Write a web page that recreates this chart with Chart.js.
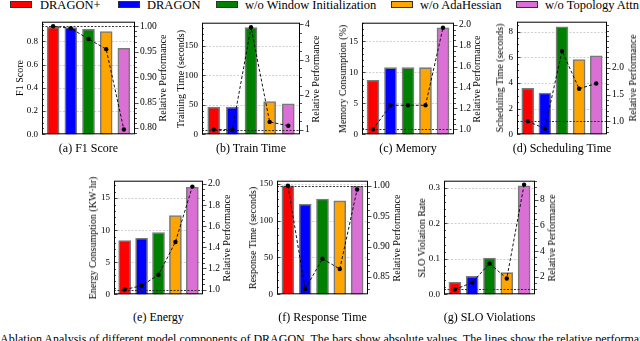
<!DOCTYPE html>
<html><head><meta charset="utf-8">
<script src="https://cdn.jsdelivr.net/npm/chart.js@4/dist/chart.umd.min.js"></script>
<style>
html,body{margin:0;padding:0;background:#fff;width:640px;height:341px;overflow:hidden;position:relative;font-family:"Liberation Serif",serif;color:#000}
canvas{position:absolute}
.t{position:absolute;white-space:nowrap;font-size:10px;line-height:10px}
.rot{transform:translate(-50%,-50%) rotate(-90deg)}
.cap{position:absolute;white-space:nowrap;font-size:12px;line-height:12px;transform:translate(-50%,-50%)}
.lg{position:absolute;top:1px;width:22px;height:7px;border:1px solid #333;box-sizing:border-box}
</style></head><body>
<script>
// ---------- data ----------
const categories = ['DRAGON+', 'DRAGON', 'w/o Window Initialization', 'w/o AdaHessian', 'w/o Topology Attn'];
const f1Score   = [0.921, 0.918, 0.903, 0.884, 0.739];
const f1Rel     = [1.000, 0.996, 0.975, 0.955, 0.797];
const trainTime = [46.0, 46.0, 180.8, 55.5, 51.7];
const trainRel  = [1.00, 1.00, 3.92, 1.22, 1.11];
const memory    = [8.73, 10.76, 10.76, 10.76, 17.2];
const memoryRel = [1.00, 1.23, 1.23, 1.23, 1.97];
const schedTime = [3.58, 3.22, 8.38, 5.82, 6.11];
const schedRel  = [1.00, 0.86, 2.32, 1.61, 1.71];
const energy    = [8.39, 8.73, 9.62, 12.28, 16.7];
const energyRel = [1.000, 1.036, 1.140, 1.450, 1.975];
const respTime  = [147.4, 122.3, 129.5, 126.9, 146.7];
const respRel   = [1.000, 0.830, 0.880, 0.863, 0.994];
const sloRate   = [0.0337, 0.0504, 0.102, 0.061, 0.305];
const sloRel    = [1.00, 1.53, 3.03, 1.85, 9.20];
const baseline  = 1.0;

// tick labels
const f1Ticks = [0.0, 0.2, 0.4, 0.6, 0.8],         f1RelTicks = [0.80, 0.85, 0.90, 0.95, 1.00];
const trainTicks = [0, 50, 100, 150],              trainRelTicks = [1, 2, 3, 4];
const memTicks = [0, 5, 10, 15],                   memRelTicks = [1.0, 1.2, 1.4, 1.6, 1.8, 2.0];
const schedTicks = [0, 2, 4, 6, 8],                schedRelTicks = [1.0, 1.5, 2.0];
const energyTicks = [0, 5, 10, 15],                energyRelTicks = [1.0, 1.2, 1.4, 1.6, 1.8, 2.0];
const respTicks = [0, 50, 100, 150],               respRelTicks = [0.85, 0.90, 0.95, 1.00];
const sloTicks = [0.0, 0.1, 0.2, 0.3],             sloRelTicks = [2, 4, 6, 8];

const captions = ['(a) F1 Score', '(b) Train Time', '(c) Memory', '(d) Scheduling Time', '(e) Energy', '(f) Response Time', '(g) SLO Violations'];
const leftTitles = ['F1 Score', 'Training Time (seconds)', 'Memory Consumption (%)', 'Scheduling Time (seconds)', 'Energy Consumption (KW\u00B7hr)', 'Response Time (seconds)', 'SLO Violation Rate'];
const rightTitle = 'Relative Performance';
const figCaption = 'Ablation Analysis of different model components of DRAGON. The bars show absolute values. The lines show the relative performance w.r.t. DRAGON+.';

// ---------- styles / layout ----------
const barColors = ['#ff0000', '#0000ff', '#008000', '#ffa500', '#da70d6'];
const panels = [
  {bars:f1Score, rel:f1Rel, lt:f1Ticks, rt:f1RelTicks, ld:1, rd:2, ymax:0.968, r:[0.7876,1.009], lmin:0.05, rmin:0.01, L:42, R:135, T:18, B:138, lx:20, rx:163},
  {bars:trainTime, rel:trainRel, lt:trainTicks, rt:trainRelTicks, ld:0, rd:0, ymax:189, r:[0.866,4.05], lmin:10, rmin:0.25, L:202, R:300, T:19, B:138, lx:181, rx:316},
  {bars:memory, rel:memoryRel, lt:memTicks, rt:memRelTicks, ld:0, rd:1, ymax:18.03, r:[0.953,2.018], lmin:1, rmin:0.05, L:362, R:454, T:19, B:138, lx:343, rx:477},
  {bars:schedTime, rel:schedRel, lt:schedTicks, rt:schedRelTicks, ld:0, rd:1, ymax:8.77, r:[0.754,2.87], lmin:0.5, rmin:0.1, L:517, R:607, T:18, B:138, lx:500, rx:633},
  {bars:energy, rel:energyRel, lt:energyTicks, rt:energyRelTicks, ld:0, rd:1, ymax:17.72, r:[0.955,2.031], lmin:1, rmin:0.05, L:114, R:203, T:177, B:298, lx:93, rx:227},
  {bars:respTime, rel:respRel, lt:respTicks, rt:respRelTicks, ld:0, rd:2, ymax:154.3, r:[0.8214,1.0084], lmin:10, rmin:0.01, L:277, R:368, T:177, B:298, lx:253, rx:397},
  {bars:sloRate, rel:sloRel, lt:sloTicks, rt:sloRelTicks, ld:1, rd:0, ymax:0.3196, r:[0.615,9.51], lmin:0.02, rmin:0.5, L:444, R:535, T:177, B:298, lx:422, rx:552}
];

const FONT = '"Liberation Serif", serif';
Chart.defaults.font.family = FONT;
Chart.defaults.color = '#000';

function addDiv(cls, text, x, y, extra) {
  const d = document.createElement('div');
  d.className = cls; d.textContent = text;
  d.style.left = x + 'px'; d.style.top = y + 'px';
  if (extra) Object.assign(d.style, extra);
  document.body.appendChild(d);
  return d;
}

// legend
const lgBox = [10, 118, 216, 391, 516], lgTxt = [40, 147, 245, 420, 545];
categories.forEach((c, i) => {
  const b = document.createElement('div'); b.className = 'lg';
  b.style.left = lgBox[i] + 'px'; b.style.background = barColors[i];
  document.body.appendChild(b);
  addDiv('t', c, lgTxt[i], -1, {fontSize: '12.5px', lineHeight: '12px'});
});

function minorList(min, max, step) {
  const out = []; const s = Math.ceil(min / step - 1e-9);
  for (let k = s; k * step <= max + 1e-9; k++) out.push(k * step);
  return out;
}

const decor = {
  id: 'decor',
  beforeDatasetsDraw(chart, args, o) {
    const {ctx, chartArea: a} = chart, y = chart.scales.y;
    ctx.save(); ctx.strokeStyle = '#c4c4c4'; ctx.lineWidth = 0.8; ctx.setLineDash([2, 1.5]);
    o.p.lt.forEach(v => {
      if (v === 0) return;
      const py = Math.round(y.getPixelForValue(v)) + 0.5;
      ctx.beginPath(); ctx.moveTo(a.left, py); ctx.lineTo(a.right, py); ctx.stroke();
    });
    ctx.restore();
  },
  afterDatasetDraw(chart, args, o) {
    if (args.index !== 0) return;
    const {ctx, chartArea: a} = chart, y1 = chart.scales.y1;
    const py = Math.round(y1.getPixelForValue(baseline)) + 0.5;
    ctx.save(); ctx.strokeStyle = '#222'; ctx.lineWidth = 0.9; ctx.setLineDash([2, 1.5]);
    ctx.beginPath(); ctx.moveTo(a.left, py); ctx.lineTo(a.right, py); ctx.stroke();
    ctx.restore();
  },
  afterDraw(chart, args, o) {
    const {ctx, chartArea: a} = chart, y = chart.scales.y, y1 = chart.scales.y1, p = o.p;
    ctx.save(); ctx.strokeStyle = '#000'; ctx.lineWidth = 1;
    ctx.strokeRect(a.left + 0.5, a.top + 0.5, a.right - a.left - 1, a.bottom - a.top - 1);
    ctx.lineWidth = 0.7;
    minorList(0, p.ymax, p.lmin).forEach(v => {
      const py = Math.round(y.getPixelForValue(v)) + 0.5;
      const major = p.lt.some(t => Math.abs(t - v) < 1e-9);
      ctx.beginPath(); ctx.moveTo(a.left, py); ctx.lineTo(a.left + (major ? 3.5 : 2), py); ctx.stroke();
    });
    minorList(p.r[0], p.r[1], p.rmin).forEach(v => {
      const py = Math.round(y1.getPixelForValue(v)) + 0.5;
      const major = p.rt.some(t => Math.abs(t - v) < 1e-9);
      ctx.beginPath(); ctx.moveTo(a.right, py); ctx.lineTo(a.right + (major ? 3.5 : 2), py); ctx.stroke();
    });
    ctx.restore();
  }
};

const WL = 34, WR = 34, PT = 7, PB = 7;
panels.forEach((p, i) => {
  const cv = document.createElement('canvas');
  const w = WL + (p.R - p.L) + WR, h = (p.B - p.T) + PT + PB;
  cv.width = w; cv.height = h;
  cv.style.left = (p.L - WL) + 'px'; cv.style.top = (p.T - PT) + 'px';
  cv.style.width = w + 'px'; cv.style.height = h + 'px';
  document.body.appendChild(cv);

  new Chart(cv, {
    type: 'bar',
    data: {
      labels: categories,
      datasets: [
        {type: 'bar', label: leftTitles[i], yAxisID: 'y', order: 1,
         data: p.bars.map((v, k) => ({x: k, y: v})),
         backgroundColor: barColors, borderColor: '#7a7a7a', borderWidth: 1.6, barThickness: 12},
        {type: 'line', label: rightTitle, yAxisID: 'y1', order: 0,
         data: p.rel.map((v, k) => ({x: k, y: v})),
         borderColor: '#000', borderWidth: 0.9, borderDash: [3, 2],
         pointRadius: 2.2, pointBackgroundColor: '#000', pointBorderWidth: 0, tension: 0}
      ]
    },
    options: {
      responsive: false, animation: false, devicePixelRatio: 1,
      layout: {padding: {top: PT, bottom: PB, left: 0, right: 0}},
      plugins: {legend: {display: false}, tooltip: {enabled: false}, decor: {p}},
      scales: {
        x: {type: 'linear', display: false, min: -0.63, max: 4.63, offset: false},
        y: {position: 'left', min: 0, max: p.ymax,
            grid: {display: false, drawTicks: false}, border: {display: false},
            afterBuildTicks: s => { s.ticks = p.lt.map(v => ({value: v})); },
            afterFit: s => { s.width = WL; },
            ticks: {padding: 4, font: {size: 9, family: FONT}, color: '#000',
                    callback: v => Number(v).toFixed(p.ld)}},
        y1: {position: 'right', min: p.r[0], max: p.r[1],
             grid: {display: false, drawTicks: false}, border: {display: false},
             afterBuildTicks: s => { s.ticks = p.rt.map(v => ({value: v})); },
             afterFit: s => { s.width = WR; },
             ticks: {padding: 5, font: {size: 9.5, family: FONT}, color: '#000',
                     callback: v => Number(v).toFixed(p.rd)}}
      }
    },
    plugins: [decor]
  });

  const cy = (p.T + p.B) / 2;
  addDiv('t rot', leftTitles[i], p.lx, cy);
  addDiv('t rot', rightTitle, p.rx, cy);
  addDiv('cap', captions[i], (p.L + p.R) / 2, p.B + (i < 4 ? 10 : 19));
});

addDiv('t', figCaption, 0, 333, {fontSize: '12px', lineHeight: '12px'});
</script>
</body></html>
